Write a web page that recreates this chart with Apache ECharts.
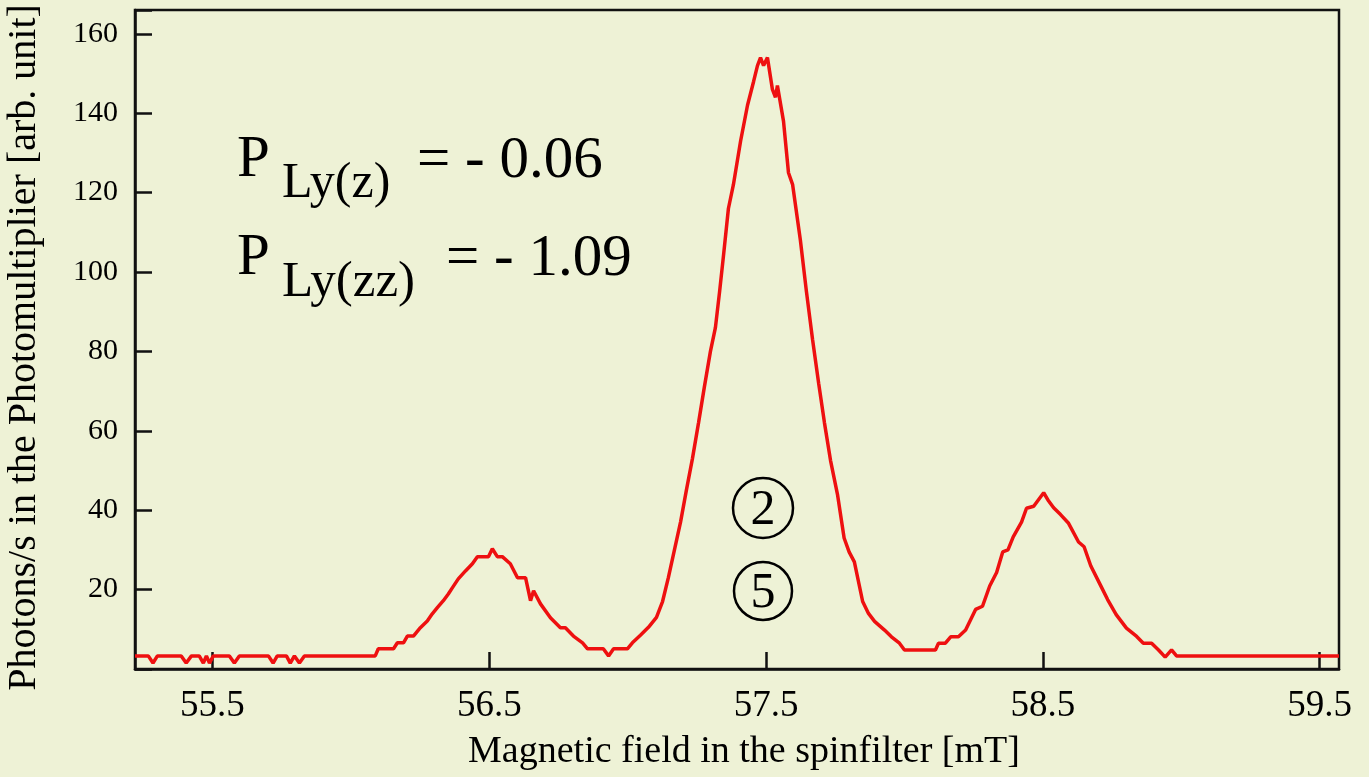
<!DOCTYPE html>
<html>
<head>
<meta charset="utf-8">
<script src="https://cdn.jsdelivr.net/npm/echarts@6/dist/echarts.min.js"></script>
<style>
html,body{margin:0;padding:0;background:#eef2d6;}
#chart{width:1369px;height:777px;}
</style>
</head>
<body>
<div id="chart"></div>
<script>
// Magnetic field in the spinfilter [mT]
const fieldValues = [
55.22,55.268,55.285,55.301,55.387,55.405,55.424,55.452,55.467,55.478,55.489,55.503,55.561,55.579,55.597,55.702,55.719,55.734,55.767,55.781,55.796,55.814,55.832,
56.088,56.099,56.154,56.168,56.190,56.204,56.226,56.251,56.276,56.294,56.313,56.334,56.352,56.367,56.388,56.414,56.439,56.457,56.497,56.511,56.529,56.547,56.576,56.602,56.631,56.649,56.660,56.685,56.721,56.757,56.775,56.804,56.837,56.855,56.912,56.931,56.949,56.999,
57.017,57.046,57.075,57.104,57.126,57.147,57.169,57.191,57.212,57.234,57.256,57.277,57.299,57.317,57.332,57.346,57.364,57.382,57.408,57.433,57.455,57.469,57.480,57.491,57.505,57.523,57.534,57.541,57.563,57.581,57.596,57.624,57.646,57.668,57.690,57.711,57.733,57.758,57.782,57.800,57.819,57.849,57.870,57.892,57.928,57.953,57.982,58.000,
58.112,58.123,58.148,58.167,58.195,58.221,58.257,58.282,58.308,58.333,58.355,58.374,58.393,58.423,58.441,58.467,58.485,58.503,58.521,58.539,58.564,58.593,58.629,58.649,58.673,58.709,58.734,58.765,58.802,58.839,58.863,58.893,58.918,58.942,58.965,58.983,59.57
];
// Photons/s in the Photomultiplier [arb. unit]
const photonValues = [
3.3,3.3,1.5,3.3,3.3,1.5,3.3,3.3,1.5,3.3,1.5,3.3,3.3,1.5,3.3,3.3,1.5,3.3,3.3,1.5,3.3,1.5,3.3,
3.3,5.1,5.1,6.6,6.6,8.3,8.3,10.4,12.1,13.9,15.5,17.2,18.9,20.5,22.7,24.7,26.5,28.3,28.3,30.3,28.3,28.3,26.5,23.0,23.0,17.2,19.7,16.4,12.9,10.4,10.4,8.3,6.6,5.1,5.1,3.3,5.1,5.1,
6.6,8.5,10.5,13.0,17.0,23.0,30.0,37.0,45.0,53.0,62.0,71.0,80.0,86.0,95.0,104.0,116.0,122.0,133.0,142.0,148.0,152.0,154.0,152.0,154.0,146.0,144.0,147.0,138.0,125.0,122.0,108.0,95.0,83.0,72.0,62.0,52.5,44.0,33.0,29.5,27.0,17.0,14.0,12.0,9.8,8.1,6.5,4.8,
4.8,6.5,6.5,8.1,8.1,9.8,15.0,15.8,20.9,24.3,29.5,30.0,33.3,37.0,40.5,41.0,42.7,44.4,42.3,40.6,38.9,36.7,32.0,30.8,26.0,21.0,17.5,13.7,10.3,8.2,6.5,6.5,4.8,3.0,4.8,3.3,3.3
];
const xTickValues = [55.5, 56.5, 57.5, 58.5, 59.5];
const yTickLabels = [20, 40, 60, 80, 100, 120, 140, 160];
const xAxisTitle = 'Magnetic field in the spinfilter [mT]';
const yAxisTitle = 'Photons/s in the Photomultiplier [arb. unit]';
const polarization = [
  {sub: 'Ly(z)', value: '= - 0.06'},
  {sub: 'Ly(zz)', value: '= - 1.09'}
];
const circledLabels = ['2', '5'];

const seriesData = fieldValues.map((x, i) => [x, photonValues[i]]);
const serif = '"Liberation Serif", "DejaVu Serif", serif';

const chart = echarts.init(document.getElementById('chart'));
const option = {
  backgroundColor: '#eef2d6',
  animation: false,
  grid: {left: 135, right: 30, top: 10, bottom: 108, outerBoundsMode: 'none', containLabel: false,
    show: true, borderColor: '#111', borderWidth: 2.5, backgroundColor: 'transparent'},
  xAxis: {
    type: 'value', min: 55.22, max: 59.57,
    name: xAxisTitle, nameLocation: 'middle', nameGap: 64,
    nameTextStyle: {fontFamily: serif, fontSize: 38, color: '#000', padding: [0, 0, 0, 14]},
    axisLine: {lineStyle: {color: '#111', width: 2.5}},
    axisTick: {inside: true, length: 17, customValues: xTickValues, lineStyle: {color: '#111', width: 2.5}},
    axisLabel: {customValues: xTickValues, margin: 19, fontFamily: serif, fontSize: 37, color: '#000', formatter: v => Number(v).toFixed(1)},
    splitLine: {show: false}
  },
  yAxis: {
    type: 'value', min: 0, max: 166, interval: 20,
    name: yAxisTitle, nameLocation: 'middle', nameGap: 91,
    nameTextStyle: {fontFamily: serif, fontSize: 40, color: '#000', padding: [0, 16, 0, 0]},
    axisLine: {lineStyle: {color: '#111', width: 2.5}},
    axisTick: {inside: true, length: 17, lineStyle: {color: '#111', width: 2.5}},
    axisLabel: {margin: 17, fontFamily: serif, fontSize: 30, color: '#000',
      formatter: v => yTickLabels.indexOf(v) >= 0 ? String(v) : ''},
    splitLine: {show: false}
  },
  series: [{
    type: 'line', data: seriesData, showSymbol: false,
    lineStyle: {color: '#ee1010', width: 3.5}, z: 5
  }],
  graphic: [
    {type: 'text', left: 237, top: 131, style: {text: 'P', font: '59px ' + serif, fill: '#000'}},
    {type: 'text', left: 282, top: 159, style: {text: polarization[0].sub, font: '50px ' + serif, fill: '#000'}},
    {type: 'text', left: 417, top: 132, style: {text: polarization[0].value, font: '59px ' + serif, fill: '#000'}},
    {type: 'text', left: 237, top: 229, style: {text: 'P', font: '59px ' + serif, fill: '#000'}},
    {type: 'text', left: 282, top: 257, style: {text: polarization[1].sub, font: '51px ' + serif, fill: '#000'}},
    {type: 'text', left: 446, top: 230, style: {text: polarization[1].value, font: '59px ' + serif, fill: '#000'}},
    {type: 'circle', shape: {cx: 763, cy: 508, r: 30}, style: {fill: 'none', stroke: '#000', lineWidth: 2.5}},
    {type: 'text', x: 763, y: 511, style: {text: circledLabels[0], font: '50px ' + serif, fill: '#000', align: 'center', verticalAlign: 'middle'}},
    {type: 'circle', shape: {cx: 763, cy: 591, r: 29}, style: {fill: 'none', stroke: '#000', lineWidth: 2.5}},
    {type: 'text', x: 763, y: 594, style: {text: circledLabels[1], font: '50px ' + serif, fill: '#000', align: 'center', verticalAlign: 'middle'}}
  ]
};
chart.setOption(option);
</script>
</body>
</html>
